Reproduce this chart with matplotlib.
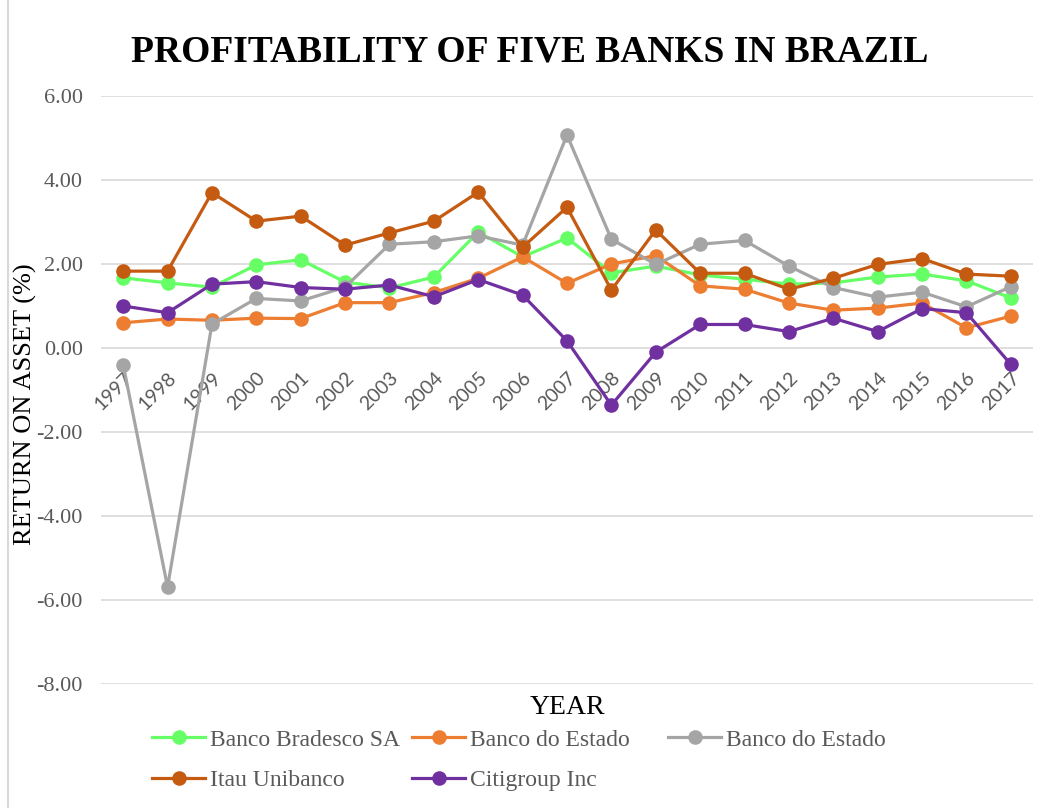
import matplotlib
matplotlib.use("Agg")
import matplotlib.pyplot as plt
from matplotlib.lines import Line2D

years = [str(y) for y in range(1997, 2018)]

bradesco = [1.67, 1.55, 1.45, 1.98, 2.10, 1.57, 1.43, 1.69, 2.76, 2.17, 2.62,
            1.79, 1.95, 1.74, 1.64, 1.52, 1.55, 1.69, 1.76, 1.60, 1.19]
estado_1 = [0.60, 0.69, 0.66, 0.71, 0.70, 1.08, 1.08, 1.32, 1.66, 2.17, 1.54,
            2.00, 2.20, 1.48, 1.40, 1.07, 0.90, 0.95, 1.07, 0.48, 0.76]
estado_2 = [-0.40, -5.69, 0.57, 1.18, 1.12, 1.45, 2.47, 2.53, 2.67, 2.45, 5.07,
            2.59, 1.99, 2.47, 2.56, 1.95, 1.44, 1.21, 1.33, 0.98, 1.46]
itau = [1.83, 1.83, 3.70, 3.02, 3.14, 2.45, 2.74, 3.02, 3.71, 2.40, 3.35,
        1.38, 2.81, 1.78, 1.78, 1.40, 1.66, 1.99, 2.13, 1.76, 1.71]
citi = [1.00, 0.84, 1.52, 1.58, 1.44, 1.40, 1.50, 1.22, 1.63, 1.26, 0.17,
        -1.36, -0.10, 0.56, 0.56, 0.39, 0.71, 0.39, 0.94, 0.84, -0.39]

series_names = ["Banco Bradesco SA", "Banco do Estado", "Banco do Estado",
                "Itau Unibanco", "Citigroup Inc"]
series_values = [bradesco, estado_1, estado_2, itau, citi]
series_colors = ["#66FF66", "#ED7D31", "#A5A5A5", "#C55A11", "#7030A0"]

yticks = [6, 4, 2, 0, -2, -4, -6, -8]

W, H = 1039, 808
fig = plt.figure(figsize=(W / 100, H / 100), dpi=100)
ax = fig.add_axes([101 / W, 1 - 684 / H, (1033 - 101) / W, (684 - 96) / H])

x = list(range(len(years)))
handles = []
for name, vals, col in zip(series_names, series_values, series_colors):
    h, = ax.plot(x, vals, color=col, lw=2.3, marker="o", markersize=10.5,
                 markeredgewidth=0, label=name, zorder=3)
    handles.append(h)

ax.set_xlim(-0.5, len(years) - 0.5)
ax.set_ylim(-8, 6)
ax.set_yticks(yticks)
ax.set_yticklabels([f"{v:.2f}" for v in yticks], fontfamily="Liberation Serif",
                   fontsize=16, color="#595959")
ax.grid(axis="y", color="#D9D9D9", lw=1.2, zorder=0)
ax.set_axisbelow(True)

for s in ["top", "right", "left"]:
    ax.spines[s].set_visible(False)
ax.spines["bottom"].set_position(("data", 0))
ax.spines["bottom"].set_color("none")
ax.set_xticks(x)
ax.set_xticklabels(years, rotation=45, ha="right", rotation_mode="anchor",
                   fontfamily="Lato", fontsize=14, color="#595959")
ax.tick_params(axis="both", length=0)
ax.tick_params(axis="x", pad=15)
ax.tick_params(axis="y", pad=13)

fig.text(530 / W, 1 - 52 / H, "PROFITABILITY OF FIVE BANKS IN BRAZIL",
         fontfamily="Liberation Serif", fontweight="bold", fontsize=27,
         ha="center", va="center", color="black")
fig.text(25 / W, 1 - 404 / H, "RETURN ON ASSET (%)", rotation=90,
         fontfamily="Liberation Serif", fontsize=19, ha="center", va="center",
         color="black")
fig.text(567 / W, 1 - 707 / H, "YEAR", fontfamily="Liberation Serif",
         fontsize=20, ha="center", va="center", color="black")

# legend: three columns of equal width, filled row by row
columns = [[0, 3], [1, 4], [2]]
col_x = [152, 412, 668]
for idxs, cx in zip(columns, col_x):
    leg = fig.legend([handles[i] for i in idxs], [series_names[i] for i in idxs],
                     loc="upper left", bbox_to_anchor=(cx / W, 1 - 729 / H),
                     frameon=False, handlelength=2.25, borderpad=0,
                     borderaxespad=0, labelspacing=0.8, handletextpad=0.2,
                     prop={"family": "Liberation Serif", "size": 17})
    for t in leg.get_texts():
        t.set_color("#595959")

fig.add_artist(Line2D([8 / W, 8 / W], [0, 1], color="#D9D9D9", lw=1.5,
                      transform=fig.transFigure))

fig.savefig("out.png", dpi=100, facecolor="white")
